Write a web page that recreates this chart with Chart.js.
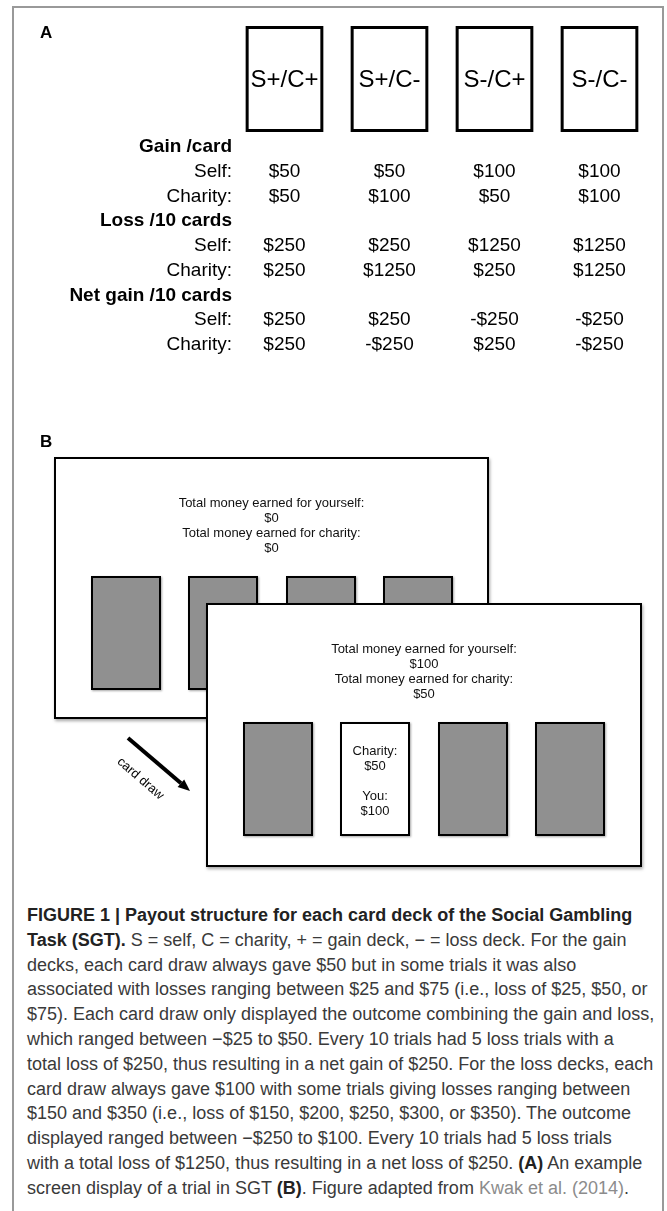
<!DOCTYPE html>
<html>
<head>
<meta charset="utf-8">
<script src="https://cdn.jsdelivr.net/npm/chart.js@4.4.0/dist/chart.umd.min.js"></script>
<style>
  html, body { margin: 0; padding: 0; background: #fff; }
  #fig { position: relative; width: 667px; height: 1211px; overflow: hidden; font-family: "Liberation Sans", Arial, sans-serif; color: #000; }
  .frame { position: absolute; left: 12px; top: 6px; width: 652px; height: 1260px; box-sizing: border-box; border: 2px solid #999; }
  #tableChart { position: absolute; left: 0; top: 0; }
  .tag { position: absolute; left: 40px; font-weight: bold; font-size: 17px; line-height: 20px; }
  .screen { position: absolute; box-sizing: border-box; border: 2.5px solid #000; background: #fff; box-shadow: 1px 2px 3px rgba(0,0,0,0.35); }
  .screen .info { position: absolute; left: 0; right: 0; top: 35.5px; text-align: center; font-size: 13px; line-height: 15px; color: #111; }
  .card { position: absolute; top: 116.5px; width: 70px; height: 114px; box-sizing: border-box; border: 2px solid #000; background: #909090; box-shadow: 1px 1px 2px rgba(0,0,0,0.35); }
  .card.open { background: #fff; text-align: center; font-size: 13px; line-height: 15px; color: #111; }
  .card.open div { margin-top: 19.5px; }
  .draw-label { position: absolute; left: 141px; top: 778px; font-size: 13px; line-height: 15px; transform: translate(-50%, -50%) rotate(40.6deg); white-space: nowrap; }
  .caption { position: absolute; left: 27px; top: 903px; font-size: 18px; line-height: 24.8px; color: #3a3a3a; white-space: nowrap; }
  .caption b { color: #222; }
  .caption .ref { color: #8c8c8c; }
</style>
</head>
<body>
<div id="fig">
  <div class="frame"></div>
  <canvas id="tableChart" width="667" height="370"></canvas>
  <div class="tag" style="top:23px">A</div>
  <div class="tag" style="top:432px">B</div>

  <svg width="667" height="900" style="position:absolute;left:0;top:0">
    <line x1="128" y1="738" x2="181" y2="783.2" stroke="#000" stroke-width="4"/>
    <polygon points="190,791 177.6,787 184.2,779.4" fill="#000"/>
  </svg>
  <div class="draw-label">card draw</div>

  <div id="screens"></div>

  <div class="caption">
    <div><b>FIGURE 1 | Payout structure for each card deck of the Social Gambling</b></div>
    <div><b>Task (SGT).</b> S = self, C = charity, + = gain deck, − = loss deck. For the gain</div>
    <div>decks, each card draw always gave $50 but in some trials it was also</div>
    <div>associated with losses ranging between $25 and $75 (i.e., loss of $25, $50, or</div>
    <div>$75). Each card draw only displayed the outcome combining the gain and loss,</div>
    <div>which ranged between −$25 to $50. Every 10 trials had 5 loss trials with a</div>
    <div>total loss of $250, thus resulting in a net gain of $250. For the loss decks, each</div>
    <div>card draw always gave $100 with some trials giving losses ranging between</div>
    <div>$150 and $350 (i.e., loss of $150, $200, $250, $300, or $350). The outcome</div>
    <div>displayed ranged between −$250 to $100. Every 10 trials had 5 loss trials</div>
    <div>with a total loss of $1250, thus resulting in a net loss of $250. <b>(A)</b> An example</div>
    <div>screen display of a trial in SGT <b>(B)</b>. Figure adapted from <span class="ref">Kwak et al. (2014)</span>.</div>
  </div>
</div>

<script>
// Panel A: payout table
const decks = ['S+/C+', 'S+/C-', 'S-/C+', 'S-/C-'];
const rowKeys = ['gain', 'gainSelf', 'gainCharity', 'loss', 'lossSelf', 'lossCharity', 'net', 'netSelf', 'netCharity'];
const rowLabels = ['Gain /card', 'Self:', 'Charity:', 'Loss /10 cards', 'Self:', 'Charity:', 'Net gain /10 cards', 'Self:', 'Charity:'];
const headerRows = [0, 3, 6];

const gainSelf = [50, 50, 100, 100];
const gainCharity = [50, 100, 50, 100];
const lossSelf = [250, 250, 1250, 1250];
const lossCharity = [250, 1250, 250, 1250];
const netSelf = [250, 250, -250, -250];
const netCharity = [250, -250, 250, -250];

// Panel B: screen totals
const selfTotals = [0, 100];
const charityTotals = [0, 50];
const drawnCharity = 50;
const drawnSelf = 100;
const drawnCardIndex = 1;

const FONT = '"Liberation Sans", Arial, sans-serif';

function money(v) {
  return (v < 0 ? '-$' : '$') + Math.abs(v);
}

function rowDataset(key, values) {
  return {
    label: key,
    values: values,
    data: values.map((v, i) => ({ x: decks[i], y: key })),
    pointRadius: 0,
    showLine: false
  };
}

// Deck cards drawn above the table, one per x category
const deckCards = {
  id: 'deckCards',
  beforeDatasetsDraw(chart) {
    const { ctx, chartArea, scales: { x } } = chart;
    const w = x.width / decks.length * 0.74;
    const top = chartArea.top - 121;
    const bottom = chartArea.top - 15;
    ctx.save();
    ctx.lineWidth = 3;
    ctx.strokeStyle = '#000';
    ctx.fillStyle = '#000';
    ctx.font = '24px ' + FONT;
    ctx.textAlign = 'center';
    ctx.textBaseline = 'middle';
    decks.forEach((d, i) => {
      const cx = x.getPixelForValue(i);
      ctx.strokeRect(cx - w / 2 + 1.5, top + 1.5, w - 3, bottom - top - 3);
      ctx.fillText(d, cx, (top + bottom) / 2 + 1);
    });
    ctx.restore();
  }
};

// Dollar values written at each point
const valueLabels = {
  id: 'valueLabels',
  afterDatasetsDraw(chart) {
    const ctx = chart.ctx;
    ctx.save();
    ctx.font = '19px ' + FONT;
    ctx.fillStyle = '#000';
    ctx.textAlign = 'center';
    ctx.textBaseline = 'middle';
    chart.data.datasets.forEach((ds, d) => {
      chart.getDatasetMeta(d).data.forEach((pt, i) => {
        ctx.fillText(money(ds.values[i]), pt.x, pt.y);
      });
    });
    ctx.restore();
  }
};

new Chart(document.getElementById('tableChart'), {
  type: 'scatter',
  data: {
    datasets: [
      rowDataset('gainSelf', gainSelf),
      rowDataset('gainCharity', gainCharity),
      rowDataset('lossSelf', lossSelf),
      rowDataset('lossCharity', lossCharity),
      rowDataset('netSelf', netSelf),
      rowDataset('netCharity', netCharity)
    ]
  },
  options: {
    responsive: false,
    animation: false,
    devicePixelRatio: 1,
    layout: { padding: { top: 147, bottom: 25, left: 0, right: 15 } },
    plugins: { legend: { display: false }, tooltip: { enabled: false } },
    scales: {
      x: {
        type: 'category',
        labels: decks,
        offset: true,
        display: false
      },
      y: {
        type: 'category',
        labels: rowKeys,
        offset: false,
        grid: { display: false, drawTicks: false },
        border: { display: false },
        afterFit: function(scale) { scale.width = 232; },
        ticks: {
          autoSkip: false,
          padding: 0,
          color: '#000',
          callback: function(value, index) { return rowLabels[index]; },
          font: function(context) {
            return {
              family: FONT,
              size: 19,
              weight: headerRows.includes(context.index) ? 'bold' : 'normal'
            };
          }
        }
      }
    }
  },
  plugins: [deckCards, valueLabels]
});

// Panel B: two overlapping task screens
const screenBoxes = [
  { left: 54, top: 457, width: 435, height: 262 },
  { left: 206, top: 603, width: 436, height: 264 }
];

const screensEl = document.getElementById('screens');
screenBoxes.forEach((box, s) => {
  const scr = document.createElement('div');
  scr.className = 'screen';
  scr.style.left = box.left + 'px';
  scr.style.top = box.top + 'px';
  scr.style.width = box.width + 'px';
  scr.style.height = box.height + 'px';

  const info = document.createElement('div');
  info.className = 'info';
  info.innerHTML = 'Total money earned for yourself:<br>' + money(selfTotals[s]) +
    '<br>Total money earned for charity:<br>' + money(charityTotals[s]);
  scr.appendChild(info);

  for (let k = 0; k < 4; k++) {
    const card = document.createElement('div');
    card.className = 'card';
    card.style.left = (34.5 + 97.5 * k) + 'px';
    if (s === 1 && k === drawnCardIndex) {
      card.classList.add('open');
      card.innerHTML = '<div>Charity:<br>' + money(drawnCharity) + '<br><br>You:<br>' + money(drawnSelf) + '</div>';
    }
    scr.appendChild(card);
  }
  screensEl.appendChild(scr);
});
</script>
</body>
</html>
